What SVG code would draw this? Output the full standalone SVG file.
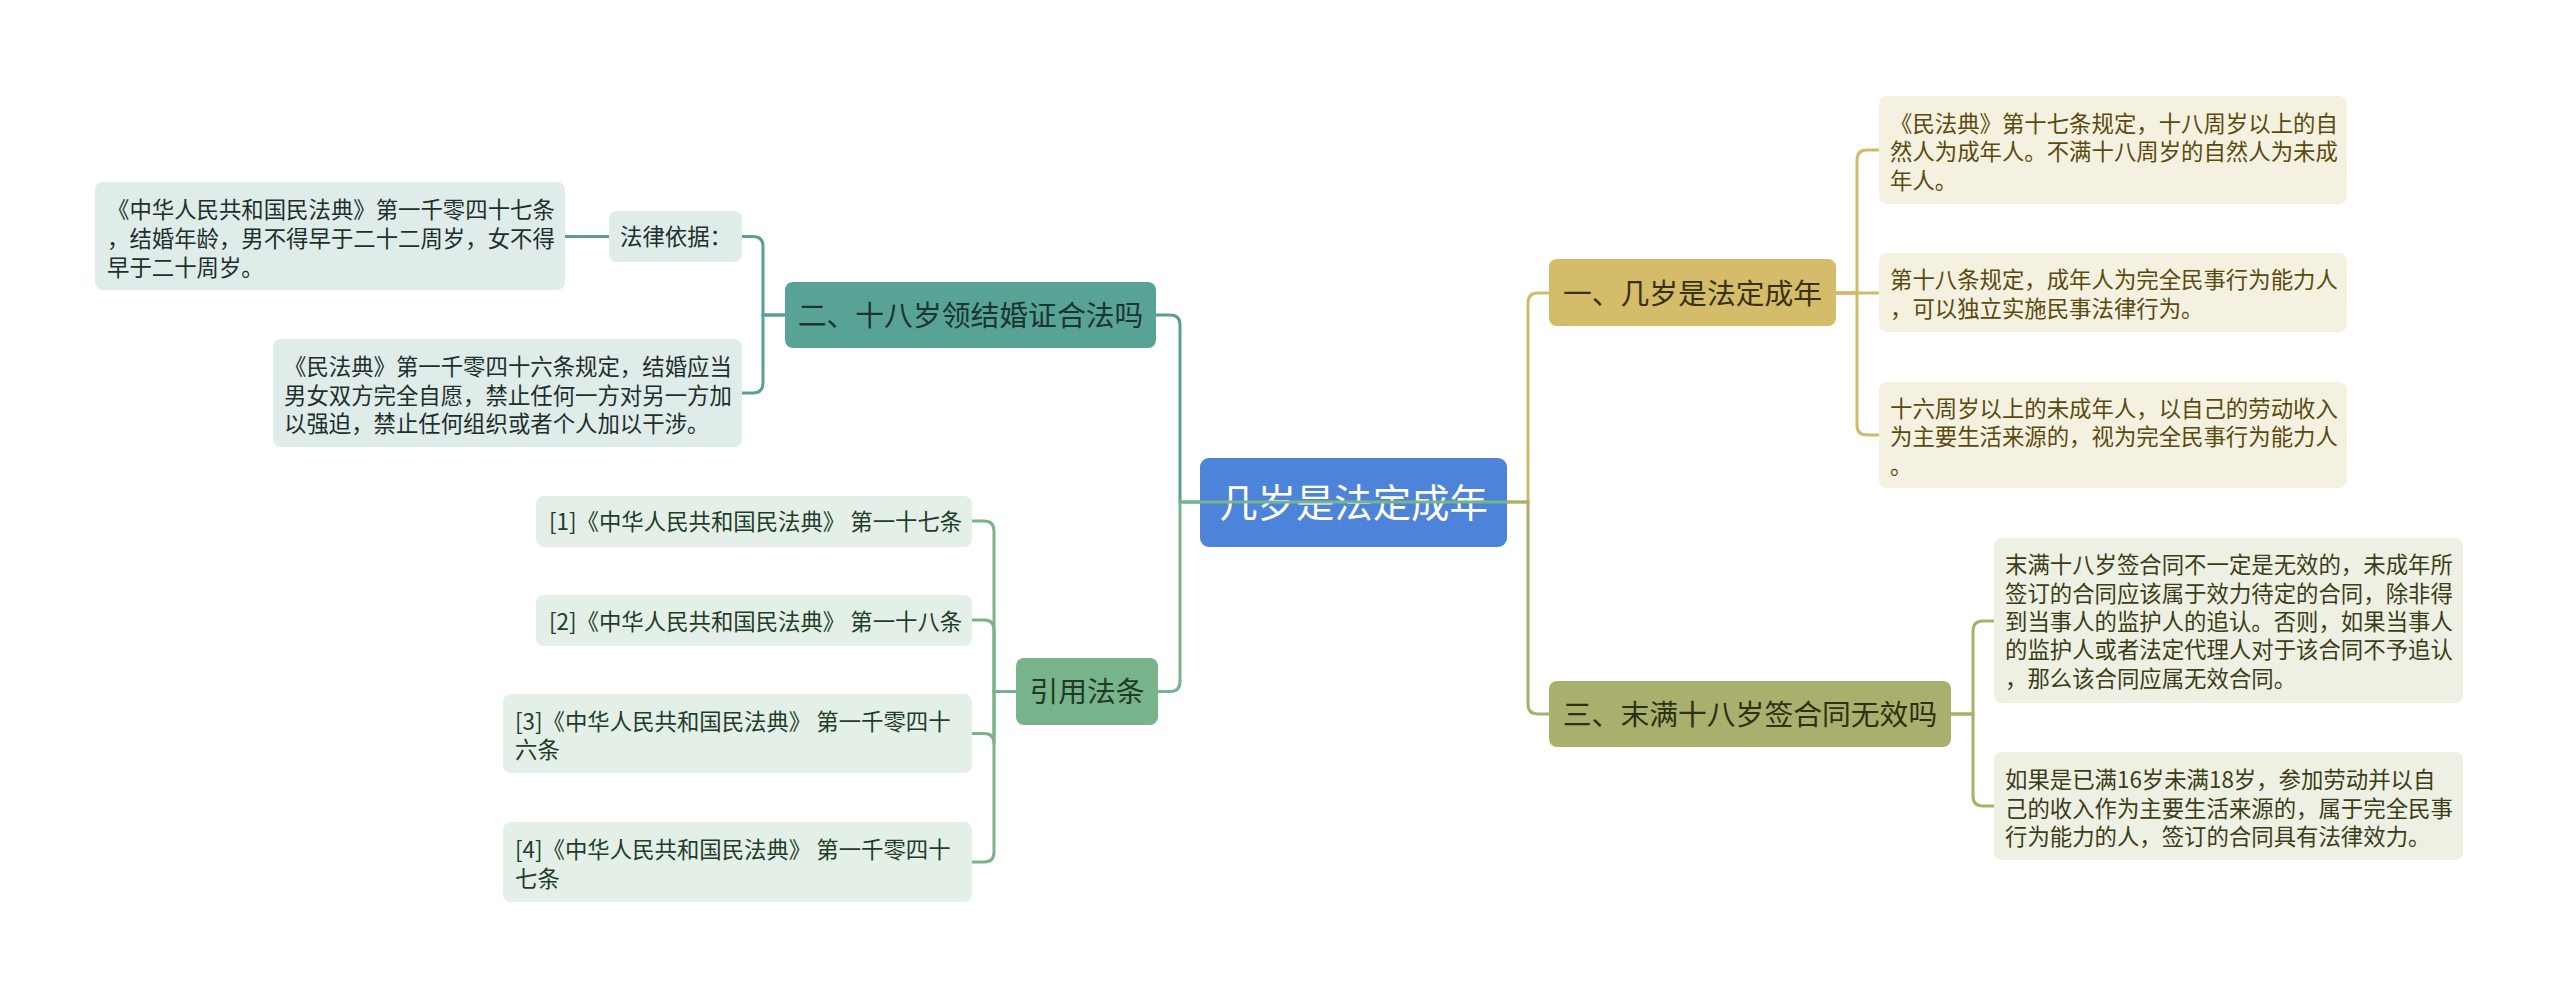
<svg xmlns="http://www.w3.org/2000/svg" width="2560" height="998" viewBox="0 0 2560 998">
<style>
text{font-family:"Noto Sans CJK SC","Noto Sans",sans-serif;}
.leaf{font-size:22.4px;}
.l1{font-size:28.8px;text-anchor:middle;}
.root{font-size:38.4px;text-anchor:middle;fill:#ffffff;}
.c{fill:none;stroke-width:3;}
.cg{stroke:#d1bb6b;}
.co{stroke:#a9b06d;}
.ct{stroke:#5b9f94;}
.cr{stroke:#79b38b;}
.fg{fill:#f5f1e0;}
.tg{fill:#5a4a0f;}
.fo{fill:#eff0e4;}
.to{fill:#3b3d16;}
.ft{fill:#dfecea;}
.tt{fill:#1e2f2c;}
.fr{fill:#e4efe8;}
.tr{fill:#1f3d27;}
</style>
<rect width="2560" height="998" fill="#ffffff"/>

<g id="root">
<rect x="1200" y="458" width="307" height="89" rx="9" fill="#4d84da"/>
<text class="root" x="1353.5" y="517">几岁是法定成年</text>
</g>

<g id="n1">
<rect x="1549" y="259" width="287" height="67" rx="8" fill="#d4bc6a"/>
<text class="l1" x="1692.5" y="303.5" fill="#3a3112">一、几岁是法定成年</text>
</g>
<g id="n3">
<rect x="1549" y="681" width="402" height="66" rx="8" fill="#a9b06d"/>
<text class="l1" x="1750" y="724.5" fill="#2e3013">三、末满十八岁签合同无效吗</text>
</g>
<g id="n2">
<rect x="785" y="282" width="371" height="66" rx="8" fill="#59a396"/>
<text class="l1" x="970.5" y="325.5" fill="#1b3531">二、十八岁领结婚证合法吗</text>
</g>
<g id="n4">
<rect x="1016" y="658" width="142" height="67" rx="8" fill="#79b38b"/>
<text class="l1" x="1087" y="702" fill="#1f3a26">引用法条</text>
</g>

<g id="g1">
<rect class="fg" x="1879" y="96" width="468" height="108" rx="8"/>
<text class="leaf tg" x="1890"><tspan x="1890" y="131.5">《民法典》第十七条规定，十八周岁以上的自</tspan><tspan x="1890" y="160">然人为成年人。不满十八周岁的自然人为未成</tspan><tspan x="1890" y="188.5">年人。</tspan></text>
</g>
<g id="g2">
<rect class="fg" x="1879" y="253" width="468" height="79" rx="8"/>
<text class="leaf tg" x="1890"><tspan x="1890" y="288">第十八条规定，成年人为完全民事行为能力人</tspan><tspan x="1890" y="316.5">，可以独立实施民事法律行为。</tspan></text>
</g>
<g id="g3">
<rect class="fg" x="1879" y="382" width="468" height="106" rx="8"/>
<text class="leaf tg" x="1890"><tspan x="1890" y="416.5">十六周岁以上的未成年人，以自己的劳动收入</tspan><tspan x="1890" y="445">为主要生活来源的，视为完全民事行为能力人</tspan><tspan x="1890" y="473.5">。</tspan></text>
</g>

<g id="o1">
<rect class="fo" x="1994" y="538" width="469" height="165" rx="8"/>
<text class="leaf to" x="2005"><tspan x="2005" y="573">末满十八岁签合同不一定是无效的，未成年所</tspan><tspan x="2005" y="601.5">签订的合同应该属于效力待定的合同，除非得</tspan><tspan x="2005" y="630">到当事人的监护人的追认。否则，如果当事人</tspan><tspan x="2005" y="658">的监护人或者法定代理人对于该合同不予追认</tspan><tspan x="2005" y="686.5">，那么该合同应属无效合同。</tspan></text>
</g>
<g id="o2">
<rect class="fo" x="1994" y="752" width="469" height="108" rx="8"/>
<text class="leaf to" x="2005"><tspan x="2005" y="788">如果是已满16岁未满18岁，参加劳动并以自</tspan><tspan x="2005" y="816.5">己的收入作为主要生活来源的，属于完全民事</tspan><tspan x="2005" y="845">行为能力的人，签订的合同具有法律效力。</tspan></text>
</g>

<g id="t0">
<rect class="ft" x="609" y="211" width="133" height="51" rx="8"/>
<text class="leaf tt" x="620" y="244.5">法律依据：</text>
</g>
<g id="t1">
<rect class="ft" x="95" y="182" width="470" height="108" rx="8"/>
<text class="leaf tt" x="107"><tspan x="107" y="218">《中华人民共和国民法典》第一千零四十七条</tspan><tspan x="107" y="247">，结婚年龄，男不得早于二十二周岁，女不得</tspan><tspan x="107" y="275.5">早于二十周岁。</tspan></text>
</g>
<g id="t2">
<rect class="ft" x="273" y="339" width="469" height="108" rx="8"/>
<text class="leaf tt" x="284"><tspan x="284" y="375">《民法典》第一千零四十六条规定，结婚应当</tspan><tspan x="284" y="403.5">男女双方完全自愿，禁止任何一方对另一方加</tspan><tspan x="284" y="431.5">以强迫，禁止任何组织或者个人加以干涉。</tspan></text>
</g>

<g id="r1">
<rect class="fr" x="536" y="496" width="436" height="51" rx="8"/>
<text class="leaf tr" x="549" y="529.5">[1]《中华人民共和国民法典》 第一十七条</text>
</g>
<g id="r2">
<rect class="fr" x="536" y="595" width="436" height="51" rx="8"/>
<text class="leaf tr" x="549" y="629.5">[2]《中华人民共和国民法典》 第一十八条</text>
</g>
<g id="r3">
<rect class="fr" x="503" y="694" width="469" height="79" rx="8"/>
<text class="leaf tr" x="515"><tspan x="515" y="729.5">[3]《中华人民共和国民法典》 第一千零四十</tspan><tspan x="515" y="758">六条</tspan></text>
</g>
<g id="r4">
<rect class="fr" x="503" y="822" width="469" height="80" rx="8"/>
<text class="leaf tr" x="515"><tspan x="515" y="858">[4]《中华人民共和国民法典》 第一千零四十</tspan><tspan x="515" y="886.5">七条</tspan></text>
</g>

<g id="connectors">
<path class="c cg" d="M1507,502 H1528 V303 Q1528,293 1538,293 H1549"/>
<path class="c co" d="M1507,502 H1528 V704 Q1528,714 1538,714 H1549"/>
<path class="c ct" d="M1200,502 H1180 V325 Q1180,315 1170,315 H1156"/>
<path class="c cr" d="M1507,502 H1180 V681.5 Q1180,691.5 1170,691.5 H1158"/>
<path class="c cg" d="M1836,293 H1857 V160 Q1857,150 1867,150 H1879"/>
<path class="c cg" d="M1836,293 H1879"/>
<path class="c cg" d="M1836,293 H1857 V425 Q1857,435 1867,435 H1879"/>
<path class="c co" d="M1951,714 H1973 V631 Q1973,621 1983,621 H1994"/>
<path class="c co" d="M1951,714 H1973 V796 Q1973,806 1983,806 H1994"/>
<path class="c ct" d="M785,315 H763 V246.5 Q763,236.5 753,236.5 H742"/>
<path class="c ct" d="M785,315 H763 V383 Q763,393 753,393 H742"/>
<path class="c ct" d="M609,236.5 H565"/>
<path class="c cr" d="M1016,691.5 H994 V531 Q994,521 984,521 H972"/>
<path class="c cr" d="M1016,691.5 H994 V630 Q994,620 984,620 H972"/>
<path class="c cr" d="M1016,691.5 H994 V743.5 Q994,733.5 984,733.5 H972"/>
<path class="c cr" d="M1016,691.5 H994 V852 Q994,862 984,862 H972"/>
</g>
</svg>
